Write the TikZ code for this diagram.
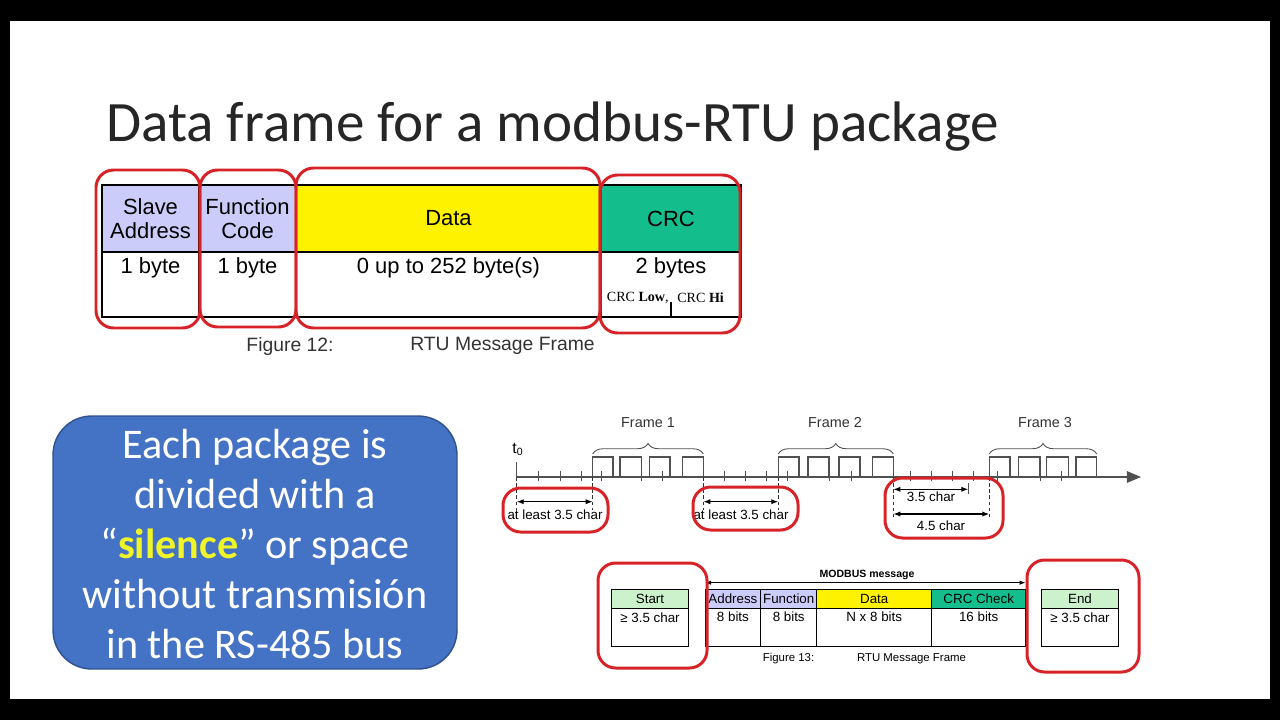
\documentclass[tikz,border=0pt]{standalone}
\usepackage{fontspec}
\setmainfont{Liberation Sans}
\newfontfamily\slidefont{Carlito}
\newfontfamily\timesfont{Liberation Serif}
\usetikzlibrary{arrows.meta,decorations.pathreplacing}
\definecolor{lavender}{RGB}{204,204,250}
\definecolor{crcgreen}{RGB}{20,190,140}
\definecolor{startgreen}{RGB}{204,242,204}
\definecolor{slideblue}{RGB}{68,114,196}
\definecolor{slideedge}{RGB}{47,82,143}
\definecolor{markred}{RGB}{215,35,40}
\definecolor{silenceyellow}{RGB}{240,245,40}
\definecolor{lineg}{RGB}{80,80,80}

\begin{document}
\begin{tikzpicture}[x=0.02cm, y=-0.02cm,
    hcell/.style={draw, line width=1pt, inner sep=0pt, align=center, font=\fontsize{12.5}{14}\selectfont},
    bcell/.style={draw, line width=1pt, inner sep=0pt},
    btxt/.style={inner sep=0pt, font=\fontsize{12.5}{14}\selectfont},
    cap12/.style={inner sep=0pt, font=\fontsize{11}{13}\selectfont, text=black!80},
    scell/.style={draw, line width=0.6pt, inner sep=0pt, font=\fontsize{7.6}{9}\selectfont},
    stxt/.style={inner sep=0pt, font=\fontsize{7.6}{9}\selectfont},
    flabel/.style={inner sep=0pt, font=\fontsize{8.2}{10}\selectfont, text=black!80},
    dlabel/.style={inner sep=0pt, font=\fontsize{7.6}{9}\selectfont},
    pulse/.style={draw=lineg, line width=0.6pt},
    tick/.style={draw=lineg, line width=0.5pt},
    guide/.style={draw=black!80, line width=0.5pt, dash pattern=on 2pt off 1.5pt},
    dimarrow/.style={{Latex[length=4pt,width=3pt]}-{Latex[length=4pt,width=3pt]}, line width=0.7pt},
    fbrace/.style={draw=lineg, line width=0.5pt, decorate, decoration={brace, amplitude=6pt}},
    redloop/.style={draw=markred, line width=1.7pt, rounded corners=10pt}
]
\useasboundingbox (0,0) rectangle (1280,720);
% slide frame
\fill[black] (0,0) rectangle (1280,720);
\fill[white] (10,21) rectangle (1270,699);

% Title
\node[anchor=base west, inner sep=0pt, text=black!85, font=\slidefont\fontsize{32.5}{40}\selectfont] (title) at (106,141) {Data frame for a modbus-RTU package};

% Figure 12 (top table)
\node[hcell, fill=lavender, minimum width=1.94cm, minimum height=1.34cm] (slave) at (150.5,218.5) {Slave\\Address};
\node[hcell, fill=lavender, minimum width=1.94cm, minimum height=1.34cm] (func) at (247.5,218.5) {Function\\Code};
\node[hcell, fill=yellow, minimum width=6.1cm, minimum height=1.34cm] (data) at (448.5,218.5) {Data};
\node[hcell, fill=crcgreen, minimum width=2.8cm, minimum height=1.34cm] (crc) at (671,218.5) {CRC};
\node[bcell, minimum width=1.94cm, minimum height=1.3cm] (slaveb) at (150.5,284.5) {};
\node[bcell, minimum width=1.94cm, minimum height=1.3cm] (funcb) at (247.5,284.5) {};
\node[bcell, minimum width=6.1cm, minimum height=1.3cm] (datab) at (448.5,284.5) {};
\node[bcell, minimum width=2.8cm, minimum height=1.3cm] (crcb) at (671,284.5) {};
\node[btxt] (slavet) at (150.5,268) {1 byte};
\node[btxt] (funct) at (247.5,268) {1 byte};
\node[btxt] (datat) at (448.5,268) {0 up to 252 byte(s)};
\node[btxt] (crct) at (671,268) {2 bytes};
\node[inner sep=0pt, anchor=east, font=\timesfont\fontsize{8}{9}\selectfont] (crclow) at (669,298) {CRC \textbf{Low},};
\node[inner sep=0pt, anchor=west, font=\timesfont\fontsize{8}{9}\selectfont] (crchi) at (677,298) {CRC \textbf{Hi}};
\draw[line width=0.6pt] (crcb.south) -- ++(0,-16);
\node[cap12] (fig12) at (290,346) {Figure 12:};
\node[cap12] (fig12t) at (502.5,346) {RTU Message Frame};

% marks on figure 12
\draw[redloop] (96,170) rectangle (200,328);
\draw[redloop] (200,170) rectangle (296,327);
\draw[redloop] (296,168) rectangle (600,328);
\draw[redloop] (600,175) rectangle (740,333);

% Note box
\node[draw=slideedge, fill=slideblue, line width=0.8pt, rounded corners=22pt, minimum width=8.08cm, minimum height=5.06cm] (note) at (255,542.5) {};
\node[align=center, text=white, font=\slidefont\fontsize{24}{28.4}\selectfont] (notetxt) at (255,544) {Each package is\\divided with a\\“\textbf{\textcolor{silenceyellow}{silence}}” or space\\without transmisión\\in the RS-485 bus};

% Timing diagram
\coordinate (t0) at (516.7,477);
\coordinate (axend) at (1141,477);
\draw[lineg, line width=0.8pt, -{Triangle[length=8pt,width=6.5pt]}] (t0) -- (axend);
\draw[tick] (t0) -- ++(0,-15);
\node[dlabel, font=\fontsize{9}{10}\selectfont] (t0lbl) at (518,449) {t\textsubscript{0}};
\foreach \x in {538.4,560,581.5,601,641.7,662.7,724.3,745.3,766.3,787,829,851,910,931.7,952.7,973.3,997,1040,1061}
  \draw[tick] (\x,471) -- (\x,481);
\foreach \a/\b in {592.7/613,620/641.7,649.3/670,682.7/703.3,
                   778.3/799,808/829,839/860,872.5/893.3,
                   989.3/1010,1018.3/1040,1046.7/1068.3,1076/1096.7}
  \draw[pulse] (\a,477) -- (\a,457) -- (\b,457) -- (\b,477);
\draw[fbrace] (592.7,454) -- (703.3,454);
\draw[fbrace] (778.3,454) -- (893.3,454);
\draw[fbrace] (989.3,454) -- (1096.7,454);
\node[flabel] (fr1) at (648,423) {Frame 1};
\node[flabel] (fr2) at (835,423) {Frame 2};
\node[flabel] (fr3) at (1045,423) {Frame 3};

% silences
\coordinate (s1a) at (516.7,501.7);
\coordinate (s1b) at (592.7,501.7);
\draw[guide] (t0) -- (516.7,510);
\draw[guide] (592.7,477) -- (592.7,510);
\draw[dimarrow] (s1a) -- (s1b);
\node[dlabel] (s1t) at (555,515) {at least 3.5 char};
\coordinate (s2a) at (703.3,501.7);
\coordinate (s2b) at (778.3,501.7);
\draw[guide] (703.3,477) -- (703.3,510);
\draw[guide] (778.3,477) -- (778.3,510);
\draw[dimarrow] (s2a) -- (s2b);
\node[dlabel] (s2t) at (741,515) {at least 3.5 char};
\coordinate (s3a) at (893.3,489.3);
\coordinate (s3b) at (968.3,489.3);
\coordinate (s4a) at (893.3,514);
\coordinate (s4b) at (989.3,514);
\draw[guide] (893.3,477) -- (893.3,518);
\draw[guide] (989.3,477) -- (989.3,518);
\draw[tick] (968.3,483) -- (968.3,494);
\draw[dimarrow] (s3a) -- (s3b);
\draw[dimarrow] (s4a) -- (s4b);
\node[dlabel] (s3t) at (931,497) {3.5 char};
\node[dlabel] (s4t) at (941,526) {4.5 char};
\draw[redloop] (503,488) rectangle (608,532);
\draw[redloop] (693,487) rectangle (798,530);
\draw[redloop] (885,478) rectangle (1003,538);

% Figure 13 (bottom table)
\node[scell, fill=startgreen, minimum width=1.532cm, minimum height=0.38cm] (start) at (650,598.8) {Start};
\node[scell, minimum width=1.532cm, minimum height=0.754cm] (startb) at (650,627.2) {};
\node[scell, fill=lavender, minimum width=1.114cm, minimum height=0.38cm] (addr) at (732.9,598.8) {Address};
\node[scell, fill=lavender, minimum width=1.12cm, minimum height=0.38cm] (fn) at (788.7,598.8) {Function};
\node[scell, fill=yellow, minimum width=2.3cm, minimum height=0.38cm] (dat) at (874.2,598.8) {Data};
\node[scell, fill=crcgreen, minimum width=1.88cm, minimum height=0.38cm] (chk) at (978.7,598.8) {CRC Check};
\node[scell, minimum width=1.114cm, minimum height=0.754cm] (addrb) at (732.9,627.2) {};
\node[scell, minimum width=1.12cm, minimum height=0.754cm] (fnb) at (788.7,627.2) {};
\node[scell, minimum width=2.3cm, minimum height=0.754cm] (datb) at (874.2,627.2) {};
\node[scell, minimum width=1.88cm, minimum height=0.754cm] (chkb) at (978.7,627.2) {};
\node[scell, fill=startgreen, minimum width=1.532cm, minimum height=0.38cm] (end) at (1080,598.8) {End};
\node[scell, minimum width=1.532cm, minimum height=0.754cm] (endb) at (1080,627.2) {};
\node[stxt] (startt) at (650,618) {≥ 3.5 char};
\node[stxt] (addrt) at (732.9,617) {8 bits};
\node[stxt] (fnt) at (788.7,617) {8 bits};
\node[stxt] (datt) at (874.2,617) {N x 8 bits};
\node[stxt] (chkt) at (978.7,617) {16 bits};
\node[stxt] (endt) at (1080,618) {≥ 3.5 char};
\coordinate (msga) at (705,582.7);
\coordinate (msgb) at (1025.7,582.7);
\draw[{Latex[length=3.5pt,width=2.5pt]}-{Latex[length=3.5pt,width=2.5pt]}, line width=0.6pt] (msga) -- (msgb);
\node[inner sep=0pt, font=\bfseries\fontsize{6}{7}\selectfont] (msg) at (867,575) {MODBUS message};
\node[inner sep=0pt, font=\fontsize{6.5}{8}\selectfont] (fig13) at (788.5,659) {Figure 13:};
\node[inner sep=0pt, font=\fontsize{6.5}{8}\selectfont] (fig13t) at (911.5,659) {RTU Message Frame};
\draw[redloop] (598,563) rectangle (707,668);
\draw[redloop] (1027,560) rectangle (1139,672);
\end{tikzpicture}
\end{document}
